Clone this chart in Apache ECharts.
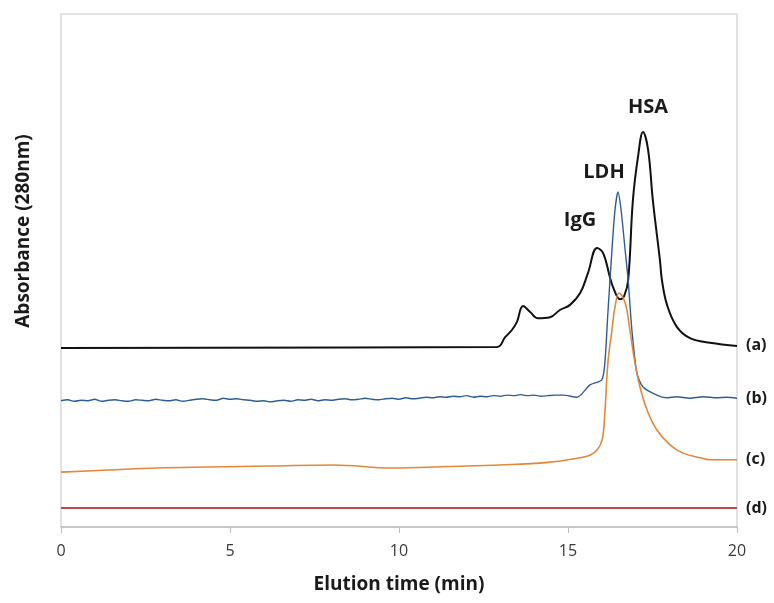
<!DOCTYPE html>
<html>
<head>
<meta charset="utf-8">
<script src="https://cdn.jsdelivr.net/npm/echarts@6/dist/echarts.min.js"></script>
<style>
  html, body { margin: 0; padding: 0; background: #fff; }
  #chart { width: 774px; height: 603px; }
</style>
</head>
<body>
<div id="chart"></div>
<script>
// elution time (min) / absorbance (arbitrary, offset traces)
const traceA = [
  [0, 34.9], [12.9, 35.1], [13.14, 37.0], [13.34, 38.4], [13.49, 40.0], [13.67, 43.1],
  [13.88, 41.9], [14.11, 40.7], [14.47, 40.9], [14.76, 42.3], [15.06, 43.3], [15.36, 45.6],
  [15.59, 49.5], [15.86, 54.4], [16.04, 53.4], [16.24, 48.7], [16.33, 46.8], [16.54, 44.4],
  [16.66, 45.0], [16.78, 48.1], [16.92, 63.7], [17.07, 72.1], [17.22, 77.0], [17.37, 73.5],
  [17.51, 63.7], [17.72, 52.0], [17.78, 48.1], [17.93, 43.3], [18.22, 39.0], [18.61, 36.8],
  [19.2, 35.9], [20, 35.3]
];

// noisy baseline of trace (b), sampled every 0.2 min from 0 to 14.6
const blueBaseStep = 0.2;
const blueBaseline = [
  24.6, 24.8, 24.5, 24.7, 24.6, 24.9, 24.5, 24.7, 24.8, 24.6, 24.5, 24.8, 24.7, 24.6, 24.9,
  24.7, 24.6, 24.8, 24.5, 24.7, 24.9, 25.0, 24.8, 24.7, 25.1, 24.9, 25.0, 24.8, 24.7, 24.5,
  24.6, 24.4, 24.6, 24.7, 24.5, 24.8, 24.7, 24.9, 24.6, 24.8, 24.7, 24.9, 25.0, 24.8, 24.9,
  25.1, 24.9, 24.8, 25.0, 25.1, 24.9, 25.2, 25.0, 25.1, 25.3, 25.2, 25.4, 25.3, 25.5, 25.4,
  25.6, 25.3, 25.5, 25.4, 25.6, 25.5, 25.7, 25.6, 25.8, 25.6, 25.7, 25.5, 25.6, 25.7
];
const tracePeakB = [
  [14.85, 25.7], [15.27, 25.3], [15.65, 27.7], [16.0, 28.7], [16.09, 32.0], [16.18, 41.7],
  [16.30, 54.0], [16.39, 61.8], [16.48, 65.3], [16.57, 61.8], [16.69, 54.0], [16.78, 48.1],
  [16.89, 38.4], [17.04, 30.0], [17.22, 27.3], [17.63, 25.7], [17.9, 25.2], [18.22, 25.4],
  [18.6, 25.1], [19.0, 25.4], [19.4, 25.2], [19.7, 25.3], [20, 25.1]
];

const traceC = [
  [0, 10.7], [1.4, 11.1], [2.84, 11.5], [4.32, 11.7], [6.2, 11.9], [8.05, 12.1],
  [9.82, 11.5], [11.4, 11.8], [12.99, 12.1], [14.4, 12.6], [15.36, 13.5], [15.65, 14.0],
  [15.86, 15.0], [16.01, 17.0], [16.09, 22.2], [16.18, 32.0], [16.30, 38.4], [16.39, 42.9],
  [16.51, 45.6], [16.69, 43.7], [16.83, 38.4], [16.98, 32.0], [17.13, 27.3], [17.34, 22.8],
  [17.63, 18.9], [18.02, 16.0], [18.40, 14.4], [18.91, 13.5], [19.2, 13.1], [20, 13.1]
];

const traceD = [[0, 3.7], [20, 3.7]];

const xTicks = [0, 5, 10, 15, 20];
const curveNames = ['(a)', '(b)', '(c)', '(d)'];
const peakNames = ['HSA', 'LDH', 'IgG'];

const traceB = blueBaseline.map((v, i) => [+(i * blueBaseStep).toFixed(2), v]).concat(tracePeakB);

const labelFont = '"Open Sans", "DejaVu Sans", sans-serif';

function endLab(txt) {
  return {
    show: true,
    formatter: txt,
    distance: 9,
    fontFamily: labelFont,
    fontWeight: 'bold',
    fontSize: 16,
    color: '#1a1a1a'
  };
}

function peakMark(coord, name, off) {
  return {
    coord: coord,
    symbol: 'circle',
    symbolSize: 0,
    label: {
      show: true,
      formatter: name,
      position: 'inside',
      offset: off,
      fontFamily: labelFont,
      fontWeight: 'bold',
      fontSize: 20,
      color: '#1a1a1a'
    }
  };
}

const chart = echarts.init(document.getElementById('chart'), null, {renderer: 'canvas'});

chart.setOption({
  animation: false,
  backgroundColor: '#fff',
  grid: {
    left: 61, right: 37, top: 14, bottom: 76,
    show: true, borderColor: '#d9d9d9', borderWidth: 1.5
  },
  xAxis: {
    type: 'value',
    min: 0, max: 20, interval: 5,
    name: 'Elution time (min)',
    nameLocation: 'middle',
    nameGap: 48,
    nameTextStyle: {
      fontFamily: labelFont, fontWeight: 'bold', fontSize: 19, color: '#1a1a1a'
    },
    axisLine: {show: true, lineStyle: {color: '#bfbfbf', width: 1.5}},
    axisTick: {show: true, inside: false, length: 6, lineStyle: {color: '#bfbfbf'}},
    axisLabel: {
      margin: 16,
      fontFamily: labelFont, fontSize: 16, color: '#3a3a3a',
      formatter: v => xTicks.includes(v) ? String(v) : ''
    },
    splitLine: {show: false}
  },
  yAxis: {
    type: 'value',
    min: 0, max: 100,
    axisLine: {show: false},
    axisTick: {show: false},
    axisLabel: {show: false},
    splitLine: {show: false}
  },
  graphic: [{
    type: 'text',
    x: 24, y: 231,
    rotation: Math.PI / 2,
    style: {
      text: 'Absorbance (280nm)',
      fontFamily: labelFont, fontWeight: 'bold', fontSize: 19, fill: '#1a1a1a',
      align: 'center', verticalAlign: 'middle'
    }
  }],
  series: [
    {
      name: curveNames[0], type: 'line', data: traceA, showSymbol: false,
      smooth: 0.4,
      lineStyle: {color: '#111', width: 2},
      endLabel: endLab(curveNames[0]),
      markPoint: {data: [peakMark([17.22, 77.0], peakNames[0], [5, -25]),
                         peakMark([15.86, 54.4], peakNames[2], [-17, -28])]}
    },
    {
      name: curveNames[1], type: 'line', data: traceB, showSymbol: false,
      smooth: 0.25,
      lineStyle: {color: '#2e5e96', width: 1.4},
      endLabel: endLab(curveNames[1]),
      markPoint: {data: [peakMark([16.48, 65.3], peakNames[1], [-14, -20])]}
    },
    {
      name: curveNames[2], type: 'line', data: traceC, showSymbol: false,
      smooth: 0.4,
      lineStyle: {color: '#e3873a', width: 1.6},
      endLabel: endLab(curveNames[2])
    },
    {
      name: curveNames[3], type: 'line', data: traceD, showSymbol: false,
      lineStyle: {color: '#b94a45', width: 2},
      endLabel: endLab(curveNames[3])
    }
  ]
});
</script>
</body>
</html>
